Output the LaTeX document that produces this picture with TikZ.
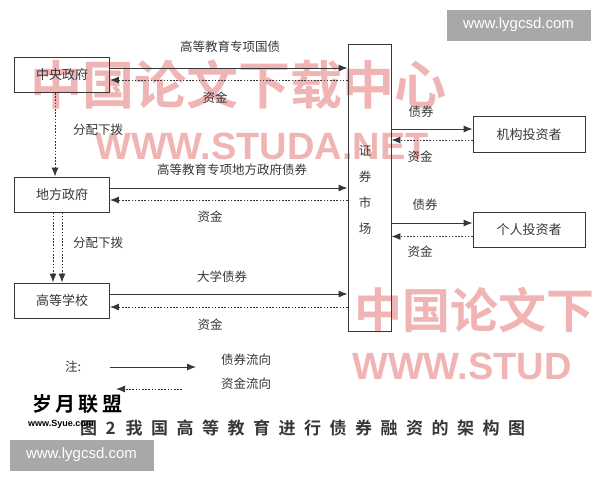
\documentclass[tikz,border=0pt]{standalone}
\usepackage{fontspec}
\setmainfont{Liberation Sans}
\newfontfamily\cjk{Noto Sans CJK SC}
\newfontfamily\cjkb{Noto Sans CJK SC Bold}
\newfontfamily\capfont[LetterSpace=50]{Noto Sans CJK SC Bold}
\usetikzlibrary{arrows.meta}
\definecolor{ink}{RGB}{55,55,55}
\definecolor{wmpink}{RGB}{240,180,180}
\definecolor{wmgray}{RGB}{168,168,168}
\tikzset{
  box/.style={draw=ink, line width=0.9pt, minimum width=95pt, minimum height=35pt, inner sep=0pt, font=\cjk\fontsize{13}{13}\selectfont, text=ink},
  ibox/.style={box, minimum width=112pt, minimum height=36pt},
  lbl/.style={inner sep=0pt, font=\cjk\fontsize{12.5}{13}\selectfont, text=ink},
  bond/.style={draw=ink, line width=0.9pt, -{Latex[length=9pt,width=7pt]}},
  fund/.style={draw=ink, line width=0.9pt, dash pattern=on 1.6pt off 1.6pt, -{Latex[length=9pt,width=7pt]}},
  wm/.style={inner sep=0pt, text=wmpink, anchor=west},
  wmbox/.style={fill=wmgray, text=white, minimum width=144pt, minimum height=31pt, inner sep=0pt, font=\fontsize{15}{15}\selectfont}
}
\begin{document}
\begin{tikzpicture}[x=1pt,y=-1pt]
\useasboundingbox (0,0) rectangle (600,480);
\fill[white] (0,0) rectangle (600,480);
% pale watermarks
\node[wm, font=\cjkb\fontsize{52}{52}\selectfont] (wm1) at (30,85) {中国论文下载中心};
\node[wm, font=\bfseries\fontsize{38}{38}\selectfont] (wm2) at (95,146) {WWW.STUDA.NET};
\node[wm, font=\cjkb\fontsize{48}{48}\selectfont] (wm3) at (354,310) {中国论文下};
\node[wm, font=\bfseries\fontsize{38}{38}\selectfont] (wm4) at (352,366) {WWW.STUD};

% boxes
\node[box] (central) at (62,75) {中央政府};
\node[box] (local) at (62,194.5) {地方政府};
\node[box] (school) at (62,300.5) {高等学校};
\node[draw=ink, line width=0.9pt, minimum width=43pt, minimum height=287pt, inner sep=0pt] (market) at (369.5,187.5) {};
\node[lbl, align=center, font=\cjk\fontsize{12.5}{26}\selectfont] (mtext) at (365,190) {证\\券\\市\\场};
\node[ibox] (inst) at (529,134.5) {机构投资者};
\node[ibox, minimum height=35pt] (person) at (529,229.5) {个人投资者};

% central <-> market
\draw[bond] ([yshift=7pt]central.east) -- ([yshift=7pt]central.east -| market.west);
\draw[fund] ([yshift=-5pt]central.east -| market.west) -- ([yshift=-5pt]central.east);
\node[lbl] (l1) at (230,47) {高等教育专项国债};
\node[lbl] (l2) at (215,98) {资金};

% local <-> market
\draw[bond] ([yshift=6.5pt]local.east) -- ([yshift=6.5pt]local.east -| market.west);
\draw[fund] ([yshift=-5.5pt]local.east -| market.west) -- ([yshift=-5.5pt]local.east);
\node[lbl] (l3) at (232,170) {高等教育专项地方政府债券};
\node[lbl] (l4) at (210,217) {资金};

% school <-> market
\draw[bond] ([yshift=6.5pt]school.east) -- ([yshift=6.5pt]school.east -| market.west);
\draw[fund] ([yshift=-6.5pt]school.east -| market.west) -- ([yshift=-6.5pt]school.east);
\node[lbl] (l5) at (222,277) {大学债券};
\node[lbl] (l6) at (210,325) {资金};

% allocation
\draw[fund] ([xshift=-7pt]central.south) -- ([xshift=-7pt]local.north);
\node[lbl] (l7) at (98,130) {分配下拨};
\draw[fund] ([xshift=-9pt]local.south) -- ([xshift=-9pt]school.north);
\draw[fund] ([xshift=0pt]local.south) -- ([xshift=0pt]school.north);
\node[lbl] (l8) at (98,243) {分配下拨};

% market <-> investors
\draw[bond] ([yshift=5.5pt]inst.west -| market.east) -- ([yshift=5.5pt]inst.west);
\draw[fund] ([yshift=-5.5pt]inst.west) -- ([yshift=-5.5pt]inst.west -| market.east);
\node[lbl] (l9) at (421,112) {债券};
\node[lbl] (l10) at (420,157) {资金};
\draw[bond] ([yshift=6.5pt]person.west -| market.east) -- ([yshift=6.5pt]person.west);
\draw[fund] ([yshift=-7pt]person.west) -- ([yshift=-7pt]person.west -| market.east);
\node[lbl] (l11) at (425,205) {债券};
\node[lbl] (l12) at (420,252) {资金};

% legend
\node[lbl] (note) at (73,367) {注:};
\coordinate (la) at (110,367);
\coordinate (lb) at (196,367);
\draw[bond] (la) -- (lb);
\coordinate (lc) at (182,389);
\coordinate (ld) at (116,389);
\draw[fund] (lc) -- (ld);
\node[lbl] (l13) at (246,360) {债券流向};
\node[lbl] (l14) at (246,384) {资金流向};

% caption
\node[inner sep=0pt, anchor=west, font=\capfont\fontsize{17}{17}\selectfont, text=ink] (cap) at (80,428) {图2\hspace{10pt}我国高等教育进行债券融资的架构图};

% other watermarks
\node[inner sep=0pt, anchor=west, font=\cjkb\fontsize{20}{20}\selectfont] (syue) at (32,404) {岁\,月\,联\,盟};
\node[inner sep=0pt, anchor=west, font=\bfseries\fontsize{9}{9}\selectfont] (syue2) at (28,424) {www.Syue.com};
\node[wmbox] (top) at (518.5,25) {www.lygcsd.com};
\node[wmbox] (bot) at (81.5,455) {www.lygcsd.com};
\end{tikzpicture}
\end{document}
